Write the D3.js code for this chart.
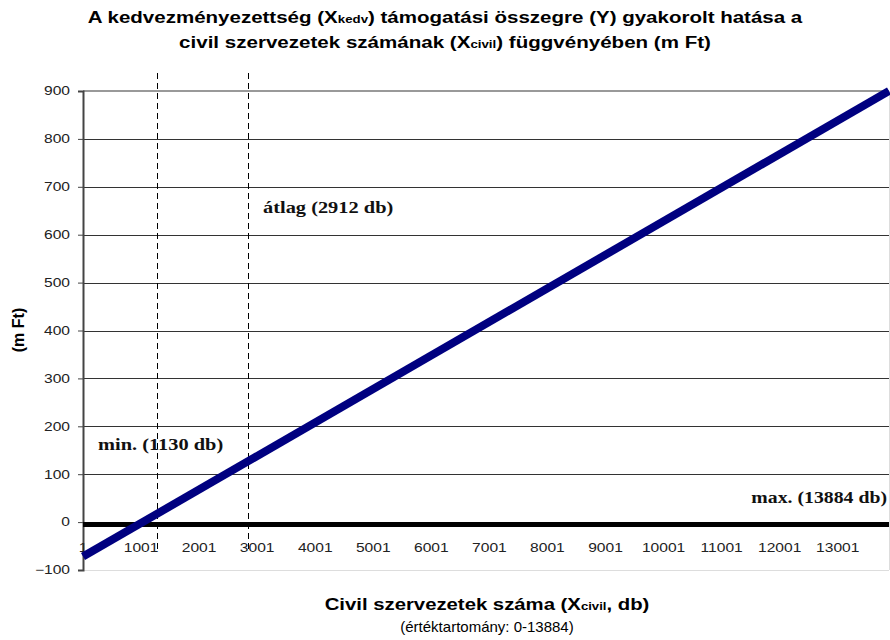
<html>
<head>
<script src="https://d3js.org/d3.v7.min.js"></script>
<style>
  body { margin: 0; background: #fff; }
  text { font-family: "Liberation Sans", Arial, sans-serif; }
</style>
</head>
<body>
<svg id="chart" width="890" height="640"></svg>
<script>
// data
const yTicks = [-100, 0, 100, 200, 300, 400, 500, 600, 700, 800, 900];
const xTicks = [1, 1001, 2001, 3001, 4001, 5001, 6001, 7001, 8001, 9001, 10001, 11001, 12001, 13001];
const lineX = [1, 13884];
const lineY = [-72, 900];
const refLines = [1276, 2843];   // dashed markers (min, átlag) as placed in the picture
const notes = ["min. (1130 db)", "átlag (2912 db)", "max. (13884 db)"];

const svg = d3.select("#chart");
const plot = { left: 83, right: 889, top: 91, bottom: 570 };

const x = d3.scaleLinear().domain([1, 13884]).range([plot.left, plot.right]);
const y = d3.scaleLinear().domain([-100, 900]).range([plot.bottom, plot.top]);
const px = v => Math.round(v) + 0.5;

// text helper: place at (cx, cy) and stretch horizontally to a target width
function stretched(g, cx, cy, target) {
    const t = g.append("text");
    const finish = () => {
        const w = t.node().getBBox().width;
        const s = target ? target / w : 1;
        t.attr("transform", `translate(${cx},${cy}) scale(${s},1)`);
        return t;
    };
    return { t, finish };
}

// title
const t1 = stretched(svg, 445, 23, 716);
t1.t.attr("text-anchor", "middle").style("font-weight", "bold").style("font-size", "17px");
t1.t.append("tspan").text("A kedvezményezettség (X");
t1.t.append("tspan").text("kedv").style("font-size", "11px");
t1.t.append("tspan").text(") támogatási összegre (Y) gyakorolt hatása a");
t1.finish();
const titleScale = 716 / t1.t.node().getBBox().width;
const title2 = svg.append("text")
    .attr("transform", `translate(445,48) scale(${titleScale},1)`)
    .attr("text-anchor", "middle")
    .style("font-weight", "bold").style("font-size", "17px");
title2.append("tspan").text("civil szervezetek számának (X");
title2.append("tspan").text("civil").style("font-size", "11px");
title2.append("tspan").text(") függvényében (m Ft)");

// gridlines
svg.append("g").selectAll("line").data(yTicks.filter(d => d > -100 && d < 900))
    .join("line")
    .attr("x1", plot.left).attr("x2", plot.right)
    .attr("y1", d => px(y(d))).attr("y2", d => px(y(d)))
    .style("stroke", "#333").style("stroke-width", 1);

// frame
svg.append("line").attr("x1", plot.left).attr("x2", plot.right)
    .attr("y1", y(900)).attr("y2", y(900))
    .style("stroke", "#999").style("stroke-width", 2);
svg.append("line").attr("x1", plot.left).attr("x2", plot.right)
    .attr("y1", px(plot.bottom)).attr("y2", px(plot.bottom))
    .style("stroke", "#ddd").style("stroke-width", 1);
svg.append("line").attr("x1", px(plot.right)).attr("x2", px(plot.right))
    .attr("y1", plot.top).attr("y2", plot.bottom)
    .style("stroke", "#ddd").style("stroke-width", 1);

// y axis
const tickStretch = 1.3;
const yAxis = svg.append("g")
    .attr("transform", `translate(${plot.left},0)`)
    .call(d3.axisLeft(y).tickValues(yTicks).tickSize(5).tickPadding(13).tickFormat(d3.format("d")));
yAxis.select(".domain").style("stroke", "#444").style("stroke-width", 2);
yAxis.selectAll(".tick line").style("stroke", "#444");
yAxis.selectAll(".tick text")
    .attr("x", -13 / tickStretch)
    .attr("transform", `scale(${tickStretch},1)`)
    .style("font-family", "Liberation Sans, Arial, sans-serif")
    .style("font-size", "12px").style("fill", "#222");

// dashed markers
svg.append("g").selectAll("line").data(refLines)
    .join("line")
    .attr("x1", d => px(x(d))).attr("x2", d => px(x(d)))
    .attr("y1", 73).attr("y2", 551)
    .style("stroke", "#000").style("stroke-width", 1)
    .style("stroke-dasharray", "6,4");

// x labels
svg.append("g").selectAll("text").data(xTicks)
    .join("text")
    .attr("transform", d => `translate(${x(d)},552) scale(${tickStretch},1)`)
    .attr("text-anchor", "middle")
    .style("font-size", "12px").style("fill", "#222")
    .text(d => d);

// zero axis
svg.append("line").attr("x1", plot.left).attr("x2", plot.right)
    .attr("y1", y(0) + 2.5).attr("y2", y(0) + 2.5)
    .style("stroke", "#000").style("stroke-width", 5);

// series
const line = d3.line().x(d => x(d[0])).y(d => y(d[1]));
svg.append("path").datum(d3.zip(lineX, lineY))
    .attr("d", line)
    .style("fill", "none").style("stroke", "#000080").style("stroke-width", 8);

// annotations
const noteStyle = s => s.style("font-family", "Liberation Serif, Times New Roman, serif")
    .style("font-weight", "bold").style("font-size", "17px").style("fill", "#111");
const noteScale = 1.2;
svg.append("text").attr("transform", `translate(98,450) scale(${noteScale},1)`).text(notes[0]).call(noteStyle);
svg.append("text").attr("transform", `translate(263,213) scale(${noteScale},1)`).text(notes[1]).call(noteStyle);
svg.append("text").attr("transform", `translate(887,503) scale(${noteScale * 0.97},1)`)
    .attr("text-anchor", "end").text(notes[2]).call(noteStyle);

// y axis title
svg.append("text")
    .attr("transform", "translate(24,330) rotate(-90)")
    .attr("text-anchor", "middle")
    .style("font-weight", "bold").style("font-size", "16px")
    .text("(m Ft)");

// x axis title
const xt = stretched(svg, 487, 610, 325);
xt.t.attr("text-anchor", "middle").style("font-weight", "bold").style("font-size", "17px");
xt.t.append("tspan").text("Civil szervezetek száma (X");
xt.t.append("tspan").text("civil").style("font-size", "11px");
xt.t.append("tspan").text(", db)");
xt.finish();
svg.append("text")
    .attr("x", 487).attr("y", 632)
    .attr("text-anchor", "middle")
    .style("font-size", "15px")
    .text("(értéktartomány: 0-13884)");
</script>
</body>
</html>
